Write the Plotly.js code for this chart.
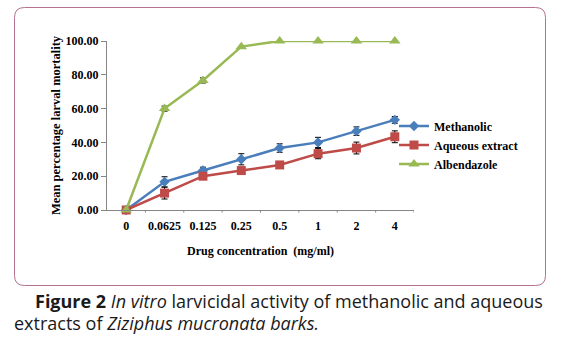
<!DOCTYPE html>
<html>
<head>
<meta charset="utf-8">
<script src="https://cdn.plot.ly/plotly-3.0.1.min.js"></script>
<style>
html,body{margin:0;padding:0;background:#fff;}
#chart{width:561px;height:356px;}
</style>
</head>
<body>
<div id="chart"></div>
<script>
const categories = ["0", "0.0625", "0.125", "0.25", "0.5", "1", "2", "4"];
const methanolic = [0, 16.67, 23.33, 30.0, 36.67, 40.0, 46.67, 53.33];
const methanolicErr = [0, 3.0, 2.0, 3.3, 2.5, 3.0, 2.5, 2.0];
const aqueous = [0, 10.0, 20.0, 23.33, 26.67, 33.33, 36.67, 43.33];
const aqueousErr = [0, 3.5, 0.8, 0.5, 2.0, 3.0, 3.5, 3.5];
const albendazole = [0, 60.0, 76.67, 96.67, 100, 100, 100, 100];
const albendazoleErr = [0, 1.5, 1.5, 0, 0, 0, 0, 0];
const yTicks = [0, 20, 40, 60, 80, 100];

const serif = "Liberation Serif, Times New Roman, serif";

function series(name, y, err, color, symbol, size) {
  return {
    type: "scatter", mode: "lines+markers", name: name,
    x: categories, y: y, cliponaxis: false,
    line: {color: color, width: 2.5},
    marker: {color: color, symbol: symbol, size: size},
    error_y: {type: "data", array: err, visible: true, color: "#000", thickness: 1, width: 3}
  };
}

const data = [
  series("Methanolic", methanolic, methanolicErr, "#4a7ebb", "diamond", 8),
  series("Aqueous extract", aqueous, aqueousErr, "#be4b48", "square", 9),
  series("Albendazole", albendazole, albendazoleErr, "#98b954", "triangle-up", 10)
];

const W = 561, H = 356, pl = 107, pr = 147, pt = 41, pb = 146;
const pw = W - pl - pr, ph = H - pt - pb;
function px(x) { return (x - pl) / pw; }
function py(y) { return (H - pb - y) / ph; }

const layout = {
  width: W, height: H,
  margin: {l: pl, r: pr, t: pt, b: pb},
  paper_bgcolor: "#fff", plot_bgcolor: "#fff",
  showlegend: true,
  legend: {
    x: px(394), y: py(145), xanchor: "left", yanchor: "middle",
    font: {family: serif, size: 12, color: "#000", weight: "bold"},
    itemwidth: 30, tracegroupgap: 0, bgcolor: "rgba(0,0,0,0)"
  },
  xaxis: {
    type: "category", range: [-0.5, 7.5],
    showline: true, linecolor: "#868686", linewidth: 1,
    showgrid: false, zeroline: false,
    ticks: "", ticklabelstandoff: 5,
    tickfont: {family: serif, size: 12, color: "#000", weight: "bold"},
    title: {text: "Drug concentration  (mg/ml)", font: {family: serif, size: 12, color: "#000", weight: "bold"}, standoff: 14}
  },
  yaxis: {
    range: [0, 100], tickvals: yTicks, tickformat: ".2f",
    showline: true, linecolor: "#868686", linewidth: 1,
    showgrid: false, zeroline: false,
    ticks: "outside", ticklen: 5, tickcolor: "#868686",
    tickfont: {family: serif, size: 12, color: "#000", weight: "bold"},
    title: {text: "Mean percentage larval mortality", font: {family: serif, size: 12.5, color: "#000", weight: "bold"}, standoff: 2}
  }
};

const tickShapes = [];
for (let i = 0; i < categories.length; i++) {
  tickShapes.push({type: "line", xref: "x", yref: "paper", x0: i + 0.5, x1: i + 0.5, y0: 0, y1: -0.015,
    line: {color: "#868686", width: 1}});
}

const bx0 = 14.5, bx1 = 545.5, by0 = 7.5, by1 = 285.5, r = 10;
function P(x, y) { return px(x).toFixed(5) + "," + py(y).toFixed(5); }
const path = "M" + P(bx0 + r, by0) + " L" + P(bx1 - r, by0) +
  " Q" + P(bx1, by0) + " " + P(bx1, by0 + r) +
  " L" + P(bx1, by1 - r) + " Q" + P(bx1, by1) + " " + P(bx1 - r, by1) +
  " L" + P(bx0 + r, by1) + " Q" + P(bx0, by1) + " " + P(bx0, by1 - r) +
  " L" + P(bx0, by0 + r) + " Q" + P(bx0, by0) + " " + P(bx0 + r, by0) + " Z";
layout.shapes = [{type: "path", xref: "paper", yref: "paper", path: path, line: {color: "#b5718f", width: 1}}].concat(tickShapes);

const capFont = {family: "Open Sans, Noto Sans, sans-serif", size: 18, color: "#1a1a1a"};
layout.annotations = [
  {xref: "paper", yref: "paper", x: px(33), y: py(301), xanchor: "left", yanchor: "middle", showarrow: false,
   text: "<b>Figure 2</b> <i>In vitro</i> larvicidal activity of methanolic and aqueous", font: capFont},
  {xref: "paper", yref: "paper", x: px(12), y: py(323), xanchor: "left", yanchor: "middle", showarrow: false,
   text: "extracts of <i>Ziziphus mucronata barks.</i>", font: capFont}
];

Plotly.newPlot("chart", data, layout, {displayModeBar: false, staticPlot: true});
</script>
</body>
</html>
